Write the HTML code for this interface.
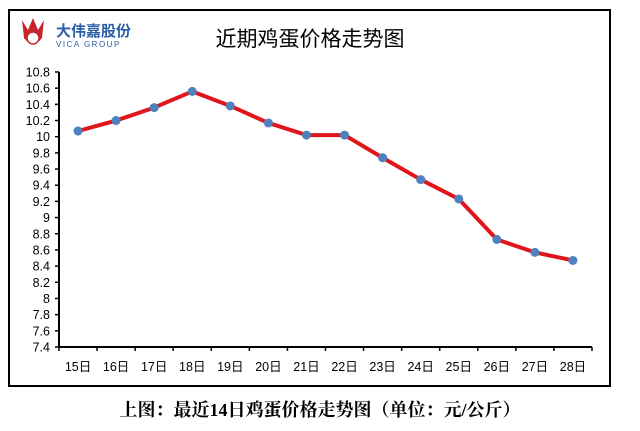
<!DOCTYPE html>
<html><head><meta charset="utf-8"><style>
body{margin:0;background:#fff;}
svg{display:block;font-family:"Liberation Sans","Noto Sans CJK SC",sans-serif;}
</style></head><body>
<svg width="640" height="431" viewBox="0 0 640 431">
<rect x="9" y="10" width="601" height="376" fill="#fff" stroke="#000" stroke-width="2"/>
<g>
<path d="M22,20 L28,30 L33,18 L38,30 L44,20 L42,38 Q33,50 24,38 Z" fill="#c8242b"/>
<circle cx="33" cy="38" r="6" fill="#fff" stroke="#c8242b" stroke-width="1.5"/>
<text x="56" y="36" font-size="15" font-weight="bold" fill="#2a5fa8">大伟嘉股份</text>
<text x="56" y="47" font-size="8" fill="#2a5fa8" letter-spacing="1.5">VICA GROUP</text>
</g>
<text x="310" y="46" font-size="21" text-anchor="middle" fill="#000">近期鸡蛋价格走势图</text>
<g id="axes"></g>
<g id="marks"></g>
<text x="320" y="416" font-size="18" font-weight="bold" text-anchor="middle" fill="#000" font-family="'Liberation Serif','Noto Serif CJK SC',serif">上图：最近14日鸡蛋价格走势图（单位：元/公斤）</text>
</svg>
<script>
const categories=["15日","16日","17日","18日","19日","20日","21日","22日","23日","24日","25日","26日","27日","28日"];
const prices=[10.07,10.2,10.36,10.56,10.38,10.17,10.02,10.02,9.74,9.47,9.23,8.73,8.57,8.47];
const yTicks=[7.4,7.6,7.8,8,8.2,8.4,8.6,8.8,9,9.2,9.4,9.6,9.8,10,10.2,10.4,10.6,10.8];
const NS="http://www.w3.org/2000/svg";
const X0=59,X1=592,Y0=347,Y1=72,yMin=7.4,yMax=10.8;
const bw=(X1-X0)/categories.length;
const xs=i=>X0+bw*(i+0.5);
const ys=v=>Y0-(v-yMin)/(yMax-yMin)*(Y0-Y1);
function mk(t,a,p){const e=document.createElementNS(NS,t);for(const k in a)e.setAttribute(k,a[k]);p.appendChild(e);return e;}
const ax=document.getElementById('axes'),mg=document.getElementById('marks');
const ya=mk('line',{x1:X0,y1:Y1,x2:X0,y2:Y0,stroke:'#000','stroke-width':2},ax);


const xa=mk('line',{x1:X0,y1:Y0,x2:X1,y2:Y0,stroke:'#000','stroke-width':2},ax);


yTicks.forEach(v=>{
 mk('line',{x1:X0-4,y1:ys(v),x2:X0,y2:ys(v),stroke:'#000','stroke-width':1.5},ax);
 const t=mk('text',{x:X0-9,y:ys(v)+4.5,'font-size':12.5,'text-anchor':'end',fill:'#000'},ax);
 t.textContent=String(v);
 
 
});
for(let i=0;i<=categories.length;i++){mk('line',{x1:X0+bw*i,y1:Y0,x2:X0+bw*i,y2:Y0+4,stroke:'#000','stroke-width':1.5},ax);}
categories.forEach((c,i)=>{
 const t=mk('text',{x:xs(i),y:371,'font-size':12.5,'text-anchor':'middle',fill:'#000'},ax);
 t.textContent=c;
 
 
});
const pl=mk('polyline',{points:prices.map((v,i)=>xs(i)+','+ys(v)).join(' '),fill:'none',stroke:'#e0161b','stroke-width':4,'stroke-linejoin':'round'},mg);


prices.forEach((v,i)=>{
 const c=mk('circle',{cx:xs(i),cy:ys(v),r:4.5,fill:'#4f81bd'},mg);
 
 
});
</script>
</body></html>
